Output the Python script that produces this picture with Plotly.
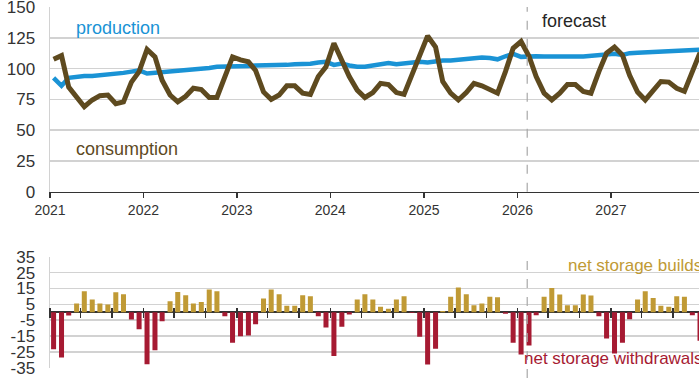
import plotly.graph_objects as go

# ---- data (monthly, Jan 2021 - Dec 2027) ----
years = list(range(2021, 2028))
months = [f"{y}-{m:02d}-15" for y in years for m in range(1, 13)]

production = [
    92.5, 86.0, 92.5, 93.5, 94.0, 94.0, 94.5, 95.0, 95.5, 96.5, 97.5, 98.5,
    96.0, 96.5, 97.0, 97.5, 98.0, 98.5, 99.0, 100.0, 100.5, 101.5, 101.5, 101.5,
    102.0, 102.0, 102.5, 102.5, 103.0, 102.5, 103.0, 103.5, 103.5, 104.0, 105.0, 105.5,
    103.0, 104.0, 102.5, 101.5, 101.5, 102.5, 104.0, 104.5, 103.5, 104.0, 105.0, 105.5,
    105.0, 106.0, 106.5, 106.5, 107.0, 107.5, 108.0, 109.0, 108.5, 107.5, 110.0, 112.0,
    109.5, 110.0, 110.0, 109.8, 109.6, 109.6, 109.6, 109.7, 109.8, 110.2, 110.8, 111.5,
    112.0, 111.0, 112.5, 112.8, 113.0, 113.2, 113.4, 113.6, 113.9, 114.2, 114.6, 115.3,
]

consumption = [
    107.5, 110.5, 85.0, 76.0, 69.0, 74.5, 78.0, 78.5, 71.5, 73.0, 89.0, 97.5,
    115.5, 109.5, 90.5, 78.5, 73.0, 77.5, 84.0, 83.0, 76.5, 76.5, 92.0, 109.5,
    107.0, 105.5, 98.5, 81.0, 75.0, 78.5, 86.0, 86.0, 80.0, 79.0, 93.5, 101.5,
    120.5, 107.0, 93.5, 82.5, 76.5, 80.5, 88.0, 87.0, 80.5, 79.0, 94.5, 111.0,
    126.5, 117.5, 89.5, 80.0, 74.5, 80.5, 88.0, 86.0, 82.5, 80.0, 97.5, 116.5,
    122.0, 110.0, 93.5, 80.0, 74.5, 80.0, 87.0, 87.0, 81.5, 80.0, 97.5, 112.5,
    117.5, 111.0, 94.5, 81.0, 74.5, 81.5, 89.5, 89.0, 84.0, 81.5, 97.5, 113.0,
]

net_storage = [
    -23.3, -28.6, -2.1, 5.5, 13.2, 8.0, 5.5, 4.8, 12.6, 11.3, -4.6, -10.7,
    -32.8, -24.0, -5.7, 6.9, 12.8, 10.7, 5.5, 6.5, 14.3, 13.2, -2.5, -19.3,
    -15.1, -14.7, -7.6, 8.6, 14.3, 11.3, 4.0, 4.0, 10.7, 10.1, -2.5, -9.7,
    -27.7, -9.2, -1.5, 8.0, 11.3, 8.0, 3.4, 2.1, 8.0, 10.1, -0.5, -15.5,
    -33.0, -23.1, 0.8, 9.7, 15.5, 11.3, 4.4, 5.5, 9.7, 9.5, -1.0, -19.3,
    -26.7, -21.0, -1.9, 9.7, 15.3, 11.1, 4.4, 4.4, 11.1, 10.5, -2.5, -16.6,
    -26.0, -19.3, -4.4, 8.0, 13.2, 9.0, 4.0, 3.4, 10.1, 9.7, -2.0, -18.0,
]

top_yticks = [0, 25, 50, 75, 100, 125, 150]
bottom_yticks = [35, 25, 15, 5, -5, -15, -25, -35]
bottom_yticktext = [str(v) for v in bottom_yticks]
forecast_start = "2026-02-08"
x_range = ["2021-01-01", "2027-12-11"]

# ---- styles ----
BLUE = "#1a93d5"
BROWN = "#5e4a1f"
GOLD = "#c09a35"
RED = "#a61a32"
GRID = "#d2d2d2"
AXIS = "#333333"
FONT = "Arial, Liberation Sans, sans-serif"

fig = go.Figure()

fig.add_trace(go.Scatter(x=months, y=production, mode="lines",
                         line=dict(color=BLUE, width=4.5),
                         xaxis="x", yaxis="y", hoverinfo="skip"))
fig.add_trace(go.Scatter(x=months, y=consumption, mode="lines",
                         line=dict(color=BROWN, width=5),
                         xaxis="x", yaxis="y", hoverinfo="skip"))

bar_colors = [GOLD if v >= 0 else RED for v in net_storage]
fig.add_trace(go.Bar(x=months, y=net_storage, marker=dict(color=bar_colors, line=dict(width=0)),
                     xaxis="x2", yaxis="y2", hoverinfo="skip"))

W, H = 699, 379
L = 50

def px_x(p):
    return (p - L) / (W - L)

def px_y(p):
    return (H - p) / H

zero_y = px_y(312)

fig.update_layout(
    width=W, height=H,
    margin=dict(l=L, r=0, t=0, b=0, autoexpand=False),
    paper_bgcolor="white", plot_bgcolor="white",
    showlegend=False,
    bargap=0.3,
    font=dict(family=FONT, color=AXIS),
    xaxis=dict(
        domain=[0, 1], anchor="y", type="date", range=x_range, automargin=False,
        tickformat="%Y", dtick="M12", tick0="2021-01-01",
        ticks="outside", ticklen=5, tickwidth=1.5, tickcolor=AXIS,
        showline=True, linecolor=AXIS, linewidth=1.5,
        showgrid=False, zeroline=False, ticklabeloverflow="allow",
        tickfont=dict(size=14, color=AXIS, family=FONT),
    ),
    yaxis=dict(
        domain=[px_y(191.7), px_y(7)], anchor="x", range=[0, 150], automargin=False,
        tickvals=top_yticks, showgrid=True, gridcolor=GRID, gridwidth=1.5,
        showline=True, linecolor=GRID, linewidth=1.5,
        zeroline=False, ticks="", ticklabelstandoff=10, ticklabeloverflow="allow",
        tickfont=dict(size=17, color=AXIS, family=FONT),
    ),
    xaxis2=dict(
        domain=[0, 1], anchor="free", position=zero_y + 5 / H, automargin=False,
        type="date", range=x_range, matches="x",
        dtick="M4", tick0="2021-01-01",
        ticks="outside", ticklen=10, tickwidth=1.5, tickcolor=AXIS,
        showticklabels=False, showline=False, showgrid=False, zeroline=False,
    ),
    yaxis2=dict(
        domain=[px_y(367.7), px_y(256.7)], anchor="x2", range=[-35, 35], automargin=False,
        tickvals=bottom_yticks, ticktext=bottom_yticktext,
        showgrid=True, gridcolor=GRID, gridwidth=1.5,
        showline=True, linecolor=GRID, linewidth=1.5,
        zeroline=True, zerolinecolor=AXIS, zerolinewidth=1.5,
        ticks="", ticklabelstandoff=10, ticklabeloverflow="allow",
        tickfont=dict(size=17, color=AXIS, family=FONT),
    ),
)

# forecast dashed lines
fig.add_shape(type="line", xref="x", yref="paper", x0=forecast_start, x1=forecast_start,
              y0=px_y(191.7), y1=px_y(7), line=dict(color="#a8a8a8", width=1.2, dash="dash"))
fig.add_shape(type="line", xref="x2", yref="paper", x0=forecast_start, x1=forecast_start,
              y0=px_y(378), y1=px_y(256.7), line=dict(color="#a8a8a8", width=1.2, dash="dash"))

def label(text, xp, yp, color, size=18):
    fig.add_annotation(text=text, xref="paper", yref="paper", x=px_x(xp), y=px_y(yp),
                       xanchor="left", yanchor="middle", showarrow=False,
                       font=dict(size=size, color=color, family=FONT))

label("production", 74, 28, BLUE)
label("consumption", 74, 149, BROWN)
label("forecast", 540, 21.5, "#262626")
label("net storage builds", 566, 265.5, GOLD, 17)
label("net storage withdrawals", 522, 358, RED, 17)

fig.write_html("out.html", config={"displayModeBar": False, "staticPlot": True},
               post_script="document.body.style.margin='0px';")
